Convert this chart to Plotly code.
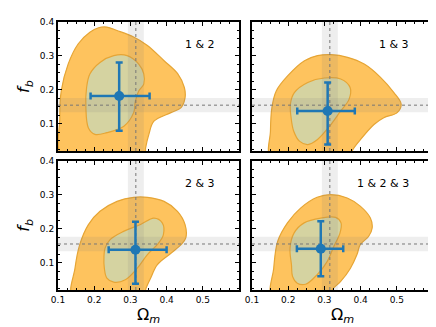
import plotly.graph_objects as go
from plotly.subplots import make_subplots

# reference values (grey bands + dotted lines)
omega_ref = 0.315
omega_band = [0.293, 0.337]
fb_ref = 0.155
fb_band = [0.134, 0.176]

x_range = [0.1, 0.6]
y_range = [0.02, 0.4]

labels = ["1 & 2", "1 & 3", "2 & 3", "1 & 2 & 3"]

# best fit points with asymmetric errors
pt_om = [0.269, 0.309, 0.314, 0.290]
pt_fb = [0.182, 0.138, 0.138, 0.141]
om_lo = [0.190, 0.225, 0.240, 0.224]
om_hi = [0.353, 0.384, 0.400, 0.352]
fb_lo = [0.080, 0.039, 0.038, 0.060]
fb_hi = [0.281, 0.222, 0.220, 0.222]

# outer (95%) contours
outer_om = [
    [0.113, 0.105, 0.109, 0.128, 0.156, 0.188, 0.212, 0.235, 0.263, 0.309, 0.347,
     0.393, 0.431, 0.449, 0.451, 0.440, 0.412, 0.365, 0.351, 0.342, 0.338],
    [0.153, 0.151, 0.155, 0.167, 0.199, 0.245, 0.281, 0.318, 0.364, 0.410, 0.455,
     0.492, 0.512, 0.501, 0.464, 0.437, 0.400, 0.377, 0.372],
    [0.141, 0.147, 0.160, 0.184, 0.216, 0.263, 0.309, 0.347, 0.393, 0.430, 0.451,
     0.453, 0.440, 0.412, 0.374, 0.356, 0.342, 0.339],
    [0.156, 0.160, 0.171, 0.198, 0.235, 0.280, 0.317, 0.363, 0.399, 0.427, 0.432,
     0.422, 0.399, 0.390, 0.372, 0.345, 0.322, 0.317],
]
outer_fb = [
    [0.000, 0.118, 0.197, 0.276, 0.336, 0.370, 0.383, 0.385, 0.375, 0.356, 0.331,
     0.286, 0.247, 0.207, 0.177, 0.148, 0.133, 0.108, 0.069, 0.029, 0.000],
    [0.000, 0.079, 0.148, 0.197, 0.242, 0.286, 0.301, 0.304, 0.296, 0.276, 0.237,
     0.192, 0.158, 0.133, 0.118, 0.098, 0.054, 0.021, 0.000],
    [0.000, 0.084, 0.153, 0.212, 0.251, 0.280, 0.292, 0.292, 0.280, 0.251, 0.212,
     0.173, 0.153, 0.128, 0.094, 0.055, 0.021, 0.000],
    [0.000, 0.084, 0.163, 0.217, 0.261, 0.292, 0.300, 0.290, 0.266, 0.231, 0.202,
     0.177, 0.153, 0.124, 0.084, 0.045, 0.021, 0.000],
]

# inner (68%) contours
inner_om = [
    [0.179, 0.188, 0.216, 0.254, 0.291, 0.323, 0.337, 0.337, 0.323, 0.314, 0.309,
     0.282, 0.235, 0.202, 0.184, 0.177],
    [0.208, 0.206, 0.217, 0.254, 0.300, 0.345, 0.371, 0.368, 0.345, 0.318, 0.281,
     0.254, 0.231, 0.215],
    [0.227, 0.230, 0.244, 0.281, 0.328, 0.365, 0.388, 0.391, 0.374, 0.347, 0.319,
     0.286, 0.254, 0.235, 0.228],
    [0.209, 0.205, 0.216, 0.244, 0.290, 0.331, 0.346, 0.343, 0.326, 0.308, 0.280,
     0.248, 0.225, 0.212],
]
inner_fb = [
    [0.207, 0.247, 0.281, 0.301, 0.301, 0.276, 0.247, 0.217, 0.197, 0.168, 0.133,
     0.093, 0.074, 0.069, 0.088, 0.148],
    [0.118, 0.158, 0.192, 0.222, 0.235, 0.232, 0.207, 0.172, 0.138, 0.098, 0.054,
     0.039, 0.049, 0.079],
    [0.119, 0.143, 0.168, 0.192, 0.212, 0.231, 0.217, 0.182, 0.153, 0.124, 0.084,
     0.050, 0.043, 0.055, 0.084],
    [0.094, 0.143, 0.187, 0.217, 0.231, 0.233, 0.217, 0.187, 0.148, 0.104, 0.065,
     0.037, 0.040, 0.060],
]

outer_fill = "#fec35e"
edge = "#e6a535"
inner_fill = "#d5d3a1"
blue = "#1f77b4"
band = "rgba(120,120,120,0.13)"

fig = make_subplots(rows=2, cols=2)
cells = [(1, 1), (1, 2), (2, 1), (2, 2)]

for i, (r, c) in enumerate(cells):
    xo = outer_om[i] + [outer_om[i][0]]
    yo = outer_fb[i] + [outer_fb[i][0]]
    fig.add_trace(go.Scatter(x=xo, y=yo, mode="lines", fill="toself",
                             fillcolor=outer_fill, line=dict(color=edge, width=1.2, shape="spline"),
                             hoverinfo="skip"), row=r, col=c)
    xi = inner_om[i] + [inner_om[i][0]]
    yi = inner_fb[i] + [inner_fb[i][0]]
    fig.add_trace(go.Scatter(x=xi, y=yi, mode="lines", fill="toself",
                             fillcolor=inner_fill, line=dict(color=edge, width=1.2, shape="spline"),
                             hoverinfo="skip"), row=r, col=c)
    # grey bands
    fig.add_trace(go.Scatter(x=[omega_band[0], omega_band[1], omega_band[1], omega_band[0]],
                             y=[y_range[0], y_range[0], y_range[1], y_range[1]],
                             mode="none", fill="toself", fillcolor=band), row=r, col=c)
    fig.add_trace(go.Scatter(x=[x_range[0], x_range[1], x_range[1], x_range[0]],
                             y=[fb_band[0], fb_band[0], fb_band[1], fb_band[1]],
                             mode="none", fill="toself", fillcolor=band), row=r, col=c)
    # dotted reference lines
    fig.add_trace(go.Scatter(x=[omega_ref, omega_ref], y=y_range, mode="lines",
                             line=dict(color="#777777", width=1, dash="dot")), row=r, col=c)
    fig.add_trace(go.Scatter(x=x_range, y=[fb_ref, fb_ref], mode="lines",
                             line=dict(color="#777777", width=1, dash="dot")), row=r, col=c)
    # best fit point
    fig.add_trace(go.Scatter(
        x=[pt_om[i]], y=[pt_fb[i]], mode="markers",
        marker=dict(color=blue, size=10),
        error_x=dict(type="data", symmetric=False, array=[om_hi[i] - pt_om[i]],
                     arrayminus=[pt_om[i] - om_lo[i]], color=blue, thickness=2.5, width=3.5),
        error_y=dict(type="data", symmetric=False, array=[fb_hi[i] - pt_fb[i]],
                     arrayminus=[pt_fb[i] - fb_lo[i]], color=blue, thickness=2.5, width=3.5),
    ), row=r, col=c)
    fig.add_annotation(x=0.54, y=0.333, text=labels[i], showarrow=False, xanchor="right",
                       font=dict(size=11, color="black"), row=r, col=c)

W, H = 436, 327
xdom = [[50 / W, 231 / W], [244 / W, 425 / W]]
ydom = [[1 - 143 / H, 1 - 14 / H], [1 - 282 / H, 1 - 152.5 / H]]

axis_style = dict(showline=True, linecolor="black", linewidth=2, mirror="allticks",
                  ticks="inside", ticklen=4, tickwidth=1, tickcolor="black",
                  showgrid=False, zeroline=False, automargin=False,
                  minor=dict(dtick=0.025, ticks="inside", ticklen=2, tickwidth=1, tickcolor="black"),
                  tickfont=dict(size=9, color="black"))

for i, (r, c) in enumerate(cells):
    fig.update_xaxes(axis_style, range=x_range, domain=xdom[c - 1],
                     tickvals=[0.1, 0.2, 0.3, 0.4, 0.5], ticktext=["0.1", "0.2", "0.3", "0.4", "0.5"],
                     showticklabels=(r == 2), row=r, col=c)
    fig.update_yaxes(axis_style, range=y_range, domain=ydom[r - 1],
                     tickvals=[0.1, 0.2, 0.3, 0.4], ticktext=["0.1", "0.2", "0.3", "0.4"],
                     showticklabels=(c == 1), row=r, col=c)
    if r == 2:
        fig.update_xaxes(title=dict(text="Ω<sub><i>m</i></sub>", font=dict(size=16, color="black"),
                                    standoff=1), row=r, col=c)
    if c == 1:
        fig.update_yaxes(title=dict(text="<i>f</i><sub><i>b</i></sub>", font=dict(size=16, color="black"),
                                    standoff=6), row=r, col=c)

fig.update_layout(width=W, height=H, showlegend=False, plot_bgcolor="white", paper_bgcolor="white",
                  margin=dict(l=0, r=0, t=0, b=0), font=dict(family="DejaVu Sans"))

fig.write_html("out.html")
